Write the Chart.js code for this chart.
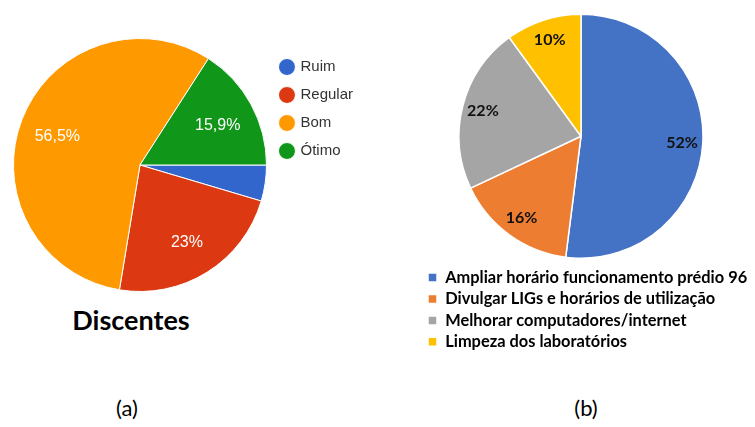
<!DOCTYPE html>
<html>
<head>
<meta charset="utf-8">
<script src="https://cdn.jsdelivr.net/npm/chart.js@4.4.0/dist/chart.umd.min.js"></script>
<style>
  body { margin: 0; background: #fff; width: 755px; height: 427px; position: relative; overflow: hidden; }
  .box { position: absolute; }
  .caption { position: absolute; font-family: Lato, sans-serif; color: #000; transform: translateX(-50%); white-space: nowrap; }
  #discentes { left: 131px; top: 303px; font-size: 27px; font-weight: bold; }
  #capA { left: 127px; top: 394px; font-size: 22px; }
  #capB { left: 586px; top: 394px; font-size: 22px; }
</style>
</head>
<body>
<div class="box" style="left:0;top:0;width:380px;height:300px"><canvas id="discentesChart"></canvas></div>
<div class="box" style="left:423px;top:0;width:332px;height:362px"><canvas id="sugestoesChart"></canvas></div>
<div class="caption" id="discentes">Discentes</div>
<div class="caption" id="capA">(a)</div>
<div class="caption" id="capB">(b)</div>
<script>
// (a) avaliação dos discentes
const discentesLabels = ["Ruim", "Regular", "Bom", "Ótimo"];
const discentesValues = [4.6, 23, 56.5, 15.9];
const discentesColors = ["#3366cc", "#dc3912", "#ff9900", "#109618"];

// (b) sugestões
const sugestoesLabels = [
  "Ampliar horário funcionamento prédio 96",
  "Divulgar LIGs e horários de utilização",
  "Melhorar computadores/internet",
  "Limpeza dos laboratórios",
];
const sugestoesValues = [52, 16, 22, 10];
const sugestoesColors = ["#4472c4", "#ed7d31", "#a5a5a5", "#ffc000"];

// writes the percentage inside each slice
const sliceLabels = {
  id: "sliceLabels",
  afterDatasetsDraw(chart, args, opts) {
    const ctx = chart.ctx;
    const meta = chart.getDatasetMeta(0);
    const dy = opts.dy || 0;
    ctx.save();
    ctx.font = opts.font;
    ctx.fillStyle = opts.color;
    ctx.textAlign = "center";
    ctx.textBaseline = "middle";
    meta.data.forEach((arc, i) => {
      const text = opts.texts[i];
      if (!text) return;
      const p = arc.getProps(["x", "y", "startAngle", "endAngle", "outerRadius"], true);
      const mid = (p.startAngle + p.endAngle) / 2;
      const r = p.outerRadius * opts.radius;
      ctx.fillText(text, p.x + Math.cos(mid) * r, p.y + Math.sin(mid) * r + dy);
    });
    ctx.restore();
  },
};

const discentesTexts = discentesValues.map((v) => (v < 5 ? "" : String(v).replace(".", ",") + "%"));
const sugestoesTexts = sugestoesValues.map((v) => v + "%");

new Chart(document.getElementById("discentesChart"), {
  type: "pie",
  data: {
    labels: discentesLabels,
    datasets: [{
      data: discentesValues,
      backgroundColor: discentesColors,
      borderColor: "#fff",
      borderWidth: 1,
      hoverOffset: 0,
    }],
  },
  options: {
    responsive: true,
    maintainAspectRatio: false,
    animation: false,
    events: [],
    rotation: 90,
    layout: { padding: { top: 38, bottom: 8, left: 12, right: 17 } },
    plugins: {
      tooltip: { enabled: false },
      legend: {
        position: "right",
        align: "start",
        title: { display: true, text: "", font: { size: 5 }, padding: { top: 0, bottom: 2.5 } },
        labels: {
          usePointStyle: true,
          pointStyle: "circle",
          boxWidth: 12,
          boxHeight: 12,
          padding: 13,
          color: "#333",
          font: { family: "Arial, 'Liberation Sans', sans-serif", size: 15 },
        },
      },
      sliceLabels: {
        texts: discentesTexts,
        radius: 0.7,
        dy: 3,
        color: "#fff",
        font: "16px Arial, 'Liberation Sans', sans-serif",
      },
    },
  },
  plugins: [sliceLabels],
});

new Chart(document.getElementById("sugestoesChart"), {
  type: "pie",
  data: {
    labels: sugestoesLabels,
    datasets: [{
      data: sugestoesValues,
      backgroundColor: sugestoesColors,
      borderColor: "#fff",
      borderWidth: 1.5,
      hoverOffset: 0,
      radius: 122,
    }],
  },
  options: {
    responsive: true,
    maintainAspectRatio: false,
    animation: false,
    events: [],
    layout: { padding: { top: 8, bottom: 2, left: 0, right: 0 } },
    plugins: {
      tooltip: { enabled: false },
      // empty box on the right keeps the pie off-centre while the legend uses the full width
      title: {
        display: true,
        text: "",
        position: "right",
        fullSize: false,
        font: { size: 10 },
        padding: { top: 2, bottom: 2 },
      },
      legend: {
        position: "bottom",
        align: "start",
        labels: {
          boxWidth: 9,
          boxHeight: 9,
          padding: 5,
          color: "#000",
          font: { family: "Lato, sans-serif", size: 16.4, weight: "bold" },
        },
      },
      sliceLabels: {
        texts: sugestoesTexts,
        radius: 0.83,
        color: "#111",
        font: "bold 16px Lato, sans-serif",
      },
    },
  },
  plugins: [sliceLabels],
});
</script>
</body>
</html>
